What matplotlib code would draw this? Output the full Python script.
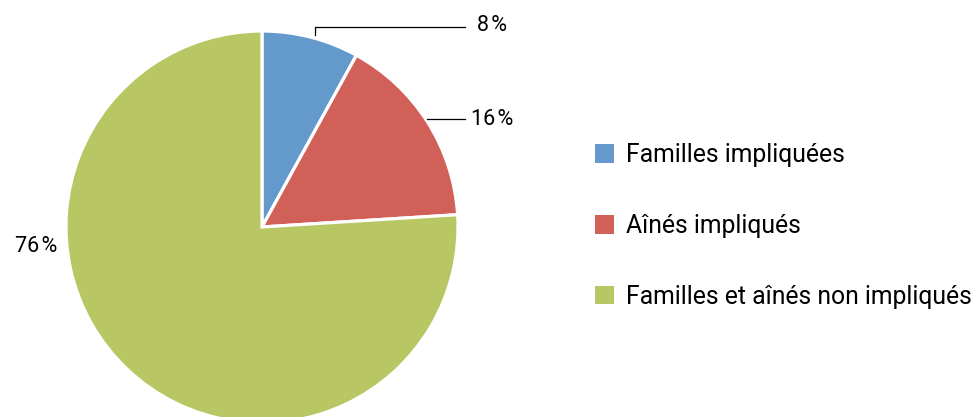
import numpy as np
import matplotlib
matplotlib.use("Agg")
import matplotlib.pyplot as plt

categories = ["Familles impliquées", "Aînés impliqués", "Familles et aînés non impliqués"]
values = [8, 16, 76]
labels = ["8\u200a%", "16\u200a%", "76\u200a%"]
colors = ["#6499CC", "#D16059", "#B8C764"]

plt.rcParams['font.family'] = ['Roboto', 'DejaVu Sans']

W, H = 975, 417
fig = plt.figure(figsize=(W / 100, H / 100), dpi=100)
ax = fig.add_axes([0, 0, 1, 1])

cx, cy, r = 262, H - 227, 196
wedges, _ = ax.pie(values, colors=colors, startangle=90, counterclock=False,
                   center=(cx, cy), radius=r,
                   wedgeprops=dict(edgecolor="white", linewidth=2.3))
ax.set_xlim(0, W)
ax.set_ylim(0, H)
ax.set_aspect("equal")
ax.axis("off")

fs_lab = 15.5
for i, w in enumerate(wedges):
    ang = np.deg2rad((w.theta1 + w.theta2) / 2)
    px, py = cx + r * np.cos(ang), cy + r * np.sin(ang)
    if i == 0:
        ytop = H - 27
        ax.plot([px + 4, px + 4, 465], [py + 2, ytop, ytop], color="black", lw=0.9)
        ax.text(477, ytop + 2, labels[i], fontsize=fs_lab, va="center", ha="left")
    elif i == 1:
        ax.plot([px, 465], [H - 119, H - 119], color="black", lw=0.9)
        ax.text(471, H - 119, labels[i], fontsize=fs_lab, va="center", ha="left")
    else:
        ax.text(57, H - 246, labels[i], fontsize=fs_lab, va="center", ha="right")

leg = fig.legend(wedges, categories, loc="center left",
                 bbox_to_anchor=(595 / W, (H - 226) / H),
                 frameon=False, fontsize=17.8, handlelength=0.76, handleheight=0.76,
                 handletextpad=0.5, labelspacing=1.9, borderpad=0, borderaxespad=0)
for h in leg.legend_handles:
    h.set_edgecolor("none")

fig.savefig("out.png", dpi=100)
